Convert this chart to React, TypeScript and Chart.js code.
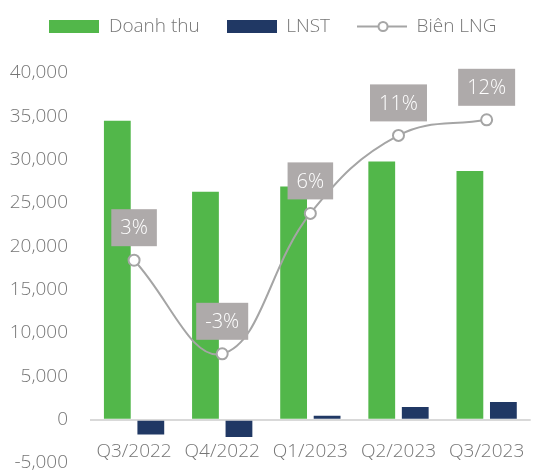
import React, { useEffect, useRef } from 'react';
import { Chart, registerables } from 'chart.js';

Chart.register(...registerables);

const categories = ['Q3/2022', 'Q4/2022', 'Q1/2023', 'Q2/2023', 'Q3/2023'];
const doanhThu = [34500, 26300, 26900, 29800, 28700];
const lnst = [-1700, -2000, 450, 1450, 2050];
const bienLNG = [3, -3, 6, 11, 12];
const seriesNames = ['Doanh thu', 'LNST', 'Biên LNG'];

const GREEN = '#52B74A';
const NAVY = '#203864';
const LINE = '#A5A5A5';
const BOX = '#AEAAAA';
const TEXT = '#767676';
const ZERO = '#D9D9D9';
const FONT = "'Open Sans', 'Noto Sans', sans-serif";

function makeSwatch(color: string) {
  const c = document.createElement('canvas');
  c.width = 50;
  c.height = 13;
  const g = c.getContext('2d')!;
  g.fillStyle = color;
  g.fillRect(0, 0, 50, 13);
  return c;
}

function makeLineSwatch() {
  const c = document.createElement('canvas');
  c.width = 50;
  c.height = 13;
  const g = c.getContext('2d')!;
  g.strokeStyle = LINE;
  g.lineWidth = 2;
  g.beginPath();
  g.moveTo(0, 6.5);
  g.lineTo(50, 6.5);
  g.stroke();
  g.beginPath();
  g.arc(26, 6.5, 4.5, 0, Math.PI * 2);
  g.fillStyle = '#fff';
  g.fill();
  g.stroke();
  return c;
}

export default function App() {
  const ref = useRef<HTMLCanvasElement>(null);

  useEffect(() => {
    const canvas = ref.current!;
    const swatches = [makeSwatch(GREEN), makeSwatch(NAVY), makeLineSwatch()];

    const legendSpace = {
      id: 'legendSpace',
      beforeInit(chart: any) {
        const lg = chart.legend;
        const orig = lg.fit;
        lg.fit = function () {
          orig.call(this);
          this.height = 83;
        };
      },
    };

    const boxLabels = {
      id: 'boxLabels',
      afterDatasetsDraw(chart: any) {
        const ctx = chart.ctx;
        const meta = chart.getDatasetMeta(2);
        ctx.save();
        ctx.font = `300 20px ${FONT}`;
        ctx.textAlign = 'center';
        ctx.textBaseline = 'middle';
        meta.data.forEach((pt: any, i: number) => {
          const text = `${bienLNG[i]}%`;
          const w = ctx.measureText(text).width + 18;
          const h = 37;
          const cx = pt.x;
          const cy = pt.y - 32.5;
          ctx.fillStyle = BOX;
          ctx.fillRect(cx - w / 2, cy - h / 2, w, h);
          ctx.fillStyle = '#FFFFFF';
          ctx.fillText(text, cx, cy + 1);
        });
        ctx.restore();
      },
    };

    const tickFont = { family: FONT, size: 19, weight: '300' as any };

    const chart = new Chart(canvas, {
      type: 'bar',
      data: {
        labels: categories,
        datasets: [
          {
            type: 'bar',
            label: seriesNames[0],
            data: doanhThu,
            backgroundColor: GREEN,
            yAxisID: 'y',
            order: 1,
            categoryPercentage: 0.76,
            barPercentage: 0.8,
          },
          {
            type: 'bar',
            label: seriesNames[1],
            data: lnst,
            backgroundColor: NAVY,
            yAxisID: 'y',
            order: 1,
            categoryPercentage: 0.76,
            barPercentage: 0.8,
          },
          {
            type: 'line',
            label: seriesNames[2],
            data: bienLNG,
            yAxisID: 'y1',
            order: 0,
            borderColor: LINE,
            borderWidth: 2,
            tension: 0.4,
            pointRadius: 5.5,
            pointBackgroundColor: '#FFFFFF',
            pointBorderColor: LINE,
            pointBorderWidth: 2,
          } as any,
        ],
      },
      options: {
        animation: false,
        responsive: false,
        layout: { padding: { top: -10, bottom: 13, left: 0, right: 0 } },
        plugins: {
          tooltip: { enabled: false },
          legend: {
            position: 'top',
            labels: {
              usePointStyle: true,
              pointStyleWidth: 50,
              boxHeight: 13,
              padding: 27,
              color: TEXT,
              font: tickFont,
              generateLabels: () =>
                seriesNames.map((name, i) => ({
                  text: name,
                  pointStyle: swatches[i] as any,
                  fillStyle: '#fff',
                  strokeStyle: '#fff',
                  lineWidth: 0,
                  hidden: false,
                  datasetIndex: i,
                  fontColor: TEXT,
                })),
            },
          },
        },
        scales: {
          x: {
            type: 'category',
            position: { y: 0 } as any,
            grid: { display: false, drawTicks: false },
            border: { display: false },
            ticks: {
              padding: 21,
              color: TEXT,
              font: tickFont,
              maxRotation: 0,
              autoSkip: false,
            },
          },
          y: {
            position: 'left',
            min: -5000,
            max: 40000,
            grid: {
              display: true,
              drawTicks: false,
              lineWidth: 2,
              color: (c: any) => (c.tick && c.tick.value === 0 ? ZERO : 'rgba(0,0,0,0)'),
            },
            border: { display: false },
            ticks: {
              stepSize: 5000,
              padding: 22,
              color: TEXT,
              font: tickFont,
              callback: (v: any) => Number(v).toLocaleString('en-US'),
            },
            afterFit: (s: any) => {
              s.width = 90;
              s.paddingTop = 11;
              s.paddingBottom = 11;
            },
          },
          y1: {
            display: false,
            position: 'right',
            min: -10,
            max: 15,
          },
        },
      },
      plugins: [legendSpace, boxLabels],
    });

    return () => chart.destroy();
  }, []);

  return (
    <div
      style={{
        position: 'fixed',
        left: 0,
        top: 0,
        width: 542,
        height: 476,
        overflow: 'hidden',
        background: '#fff',
      }}
    >
      <canvas ref={ref} width={546} height={476} style={{ display: 'block', width: 546, height: 476 }} />
    </div>
  );
}
